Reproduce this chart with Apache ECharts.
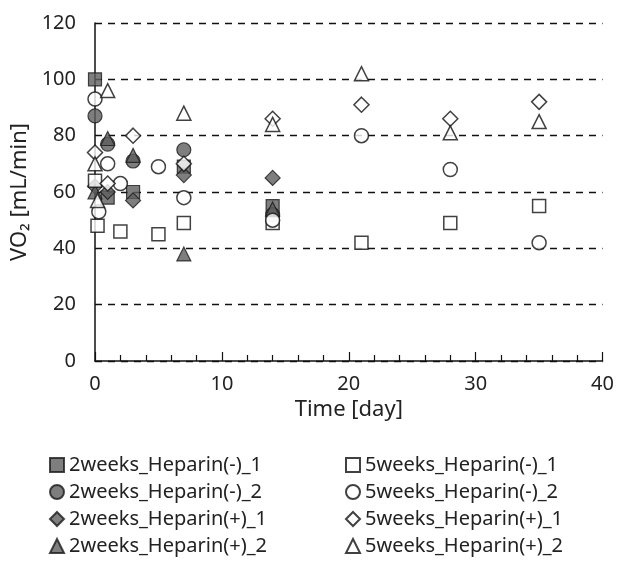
<!DOCTYPE html>
<html>
<head>
<meta charset="utf-8">
<title>VO2</title>
<script src="https://cdn.jsdelivr.net/npm/echarts@6/dist/echarts.min.js"></script>
<style>
  html, body { margin: 0; padding: 0; background: #fff; }
  #chart { width: 617px; height: 571px; }
</style>
</head>
<body>
<div id="chart"></div>
<script>
// series names (legend)
const seriesNames = [
  '2weeks_Heparin(-)_1', '2weeks_Heparin(-)_2', '2weeks_Heparin(+)_1', '2weeks_Heparin(+)_2',
  '5weeks_Heparin(-)_1', '5weeks_Heparin(-)_2', '5weeks_Heparin(+)_1', '5weeks_Heparin(+)_2'
]

// 2 weeks groups (grey filled)
const days2wMinus1 = [0, 1, 3, 7, 14]
const vo22wMinus1 = [100, 58, 60, 69, 55]
const days2wMinus2 = [0, 1, 3, 7, 14]
const vo22wMinus2 = [87, 77, 71, 75, 52]
const days2wPlus1 = [0, 1, 3, 7, 14]
const vo22wPlus1 = [62, 60, 57, 66, 65]
const days2wPlus2 = [0, 1, 3, 7, 14]
const vo22wPlus2 = [60, 79, 73, 38, 54]

// 5 weeks groups (open)
const days5wMinus1 = [0, 0.2, 2, 5, 7, 14, 21, 28, 35]
const vo25wMinus1 = [64, 48, 46, 45, 49, 49, 42, 49, 55]
const days5wMinus2 = [0, 0.3, 1, 2, 5, 7, 14, 21, 28, 35]
const vo25wMinus2 = [93, 53, 70, 63, 69, 58, 50, 80, 68, 42]
const days5wPlus1 = [0, 1, 3, 7, 14, 21, 28, 35]
const vo25wPlus1 = [74, 63, 80, 70, 86, 91, 86, 92]
const days5wPlus2 = [0, 0.2, 1, 7, 14, 21, 28, 35]
const vo25wPlus2 = [70, 57, 96, 88, 84, 102, 81, 85]

// axis ticks
const xMin = 0, xMax = 40, xStep = 10
const yMin = 0, yMax = 120, yStep = 20

const zip = (xs, ys) => xs.map((x, i) => [x, ys[i]])

const filledStyle = { color: '#5e5e5e', borderColor: '#1a1a1a', borderWidth: 1.2 }
const openStyle = { color: '#fff', borderColor: '#111', borderWidth: 1.5 }

const groups = [
  { days: days2wMinus1, vals: vo22wMinus1, symbol: 'rect', size: 13, style: filledStyle },
  { days: days2wMinus2, vals: vo22wMinus2, symbol: 'circle', size: 14, style: filledStyle },
  { days: days2wPlus1, vals: vo22wPlus1, symbol: 'diamond', size: 15, style: filledStyle },
  { days: days2wPlus2, vals: vo22wPlus2, symbol: 'triangle', size: 14, style: filledStyle },
  { days: days5wMinus1, vals: vo25wMinus1, symbol: 'rect', size: 13, style: openStyle },
  { days: days5wMinus2, vals: vo25wMinus2, symbol: 'circle', size: 14, style: openStyle },
  { days: days5wPlus1, vals: vo25wPlus1, symbol: 'diamond', size: 15, style: openStyle },
  { days: days5wPlus2, vals: vo25wPlus2, symbol: 'triangle', size: 14, style: openStyle }
]

const font = "'Noto Sans', 'Open Sans', sans-serif"
const legendText = { fontSize: 20, color: '#222', fontFamily: font }

const chart = echarts.init(document.getElementById('chart'))
chart.setOption({
  backgroundColor: '#fff',
  animation: false,
  textStyle: { fontFamily: font, color: '#222' },
  grid: { left: 95, right: 13, top: 23, bottom: 210 },
  legend: [
    { // left column
      data: seriesNames.slice(0, 4),
      orient: 'vertical',
      left: 49,
      top: 455,
      height: 140,
      padding: 0,
      itemWidth: 14,
      itemHeight: 14,
      itemGap: 7,
      textStyle: legendText
    },
    { // right column
      data: seriesNames.slice(4),
      orient: 'vertical',
      left: 345,
      top: 455,
      height: 140,
      padding: 0,
      itemWidth: 14,
      itemHeight: 14,
      itemGap: 7,
      textStyle: legendText
    }
  ],
  xAxis: {
    type: 'value',
    min: xMin,
    max: xMax,
    interval: xStep,
    name: 'Time [day]',
    nameLocation: 'middle',
    nameGap: 38,
    nameTextStyle: { fontSize: 22, color: '#222' },
    axisLine: { lineStyle: { color: '#111', width: 1.5 } },
    axisTick: { show: true, inside: true, length: 9, lineStyle: { color: '#111', width: 1.2 } },
    minorTick: { show: true, splitNumber: 5, length: 6, lineStyle: { color: '#111', width: 1.2 } },
    axisLabel: { fontSize: 20, color: '#222', margin: 13 },
    splitLine: { show: false }
  },
  yAxis: {
    type: 'value',
    min: yMin,
    max: yMax,
    interval: yStep,
    name: 'VO₂ [mL/min]',
    nameLocation: 'middle',
    nameGap: 56,
    nameTextStyle: { fontSize: 22, color: '#222' },
    axisLine: { show: true, lineStyle: { color: '#111', width: 1.5 } },
    axisTick: { show: false },
    axisLabel: { fontSize: 20, color: '#222', margin: 19 },
    splitLine: { show: true, lineStyle: { color: '#111', type: [7, 6], width: 1.3 } }
  },
  series: groups.map((g, i) => ({
    name: seriesNames[i],
    type: 'scatter',
    symbol: g.symbol,
    symbolSize: g.size,
    itemStyle: g.style,
    data: zip(g.days, g.vals)
  }))
})
</script>
</body>
</html>
